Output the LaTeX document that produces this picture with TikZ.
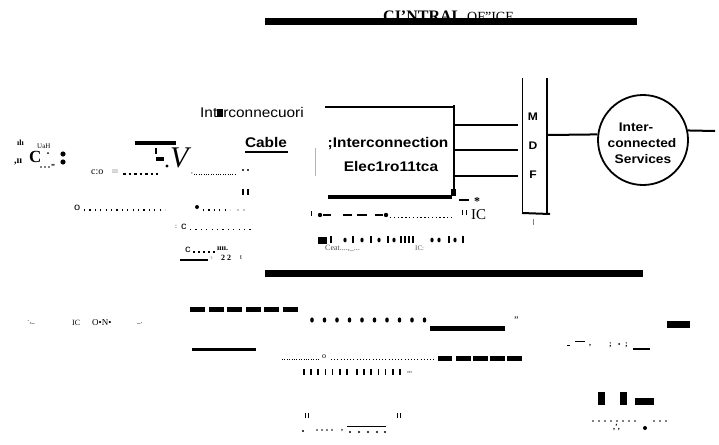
\documentclass[tikz,border=0pt]{standalone}
\usepackage{fontspec}
\setmainfont{Liberation Serif}
\newfontfamily\lsans[FakeStretch=1.1]{Liberation Sans}
\begin{document}
\begin{tikzpicture}[x=1pt,y=-1pt,
  lbl/.style={inner sep=0pt, font=\lsans\fontsize{14}{14}\selectfont},
  lblb/.style={inner sep=0pt, font=\lsans\bfseries\fontsize{14}{14}\selectfont},
  svct/.style={inner sep=0pt, font=\lsans\bfseries\fontsize{12.5}{12.5}\selectfont},
  junk/.style={inner sep=0pt, anchor=west, font=\fontsize{9}{9}\selectfont},
  wire/.style={line width=2.3pt},
  dots/.style={line width=1.2pt, dash pattern=on 1.2pt off 4.2pt},
  fdots/.style={line width=0.8pt, dash pattern=on 0.8pt off 1.6pt}]
\useasboundingbox (0,0) rectangle (719,444);

% ---------- title ----------
\node[inner sep=0, anchor=base west, font=\bfseries\fontsize{16}{16}\selectfont] (t1) at (383,22) {CI'NTRAL};
\node[inner sep=0, anchor=base west, font=\fontsize{14}{14}\selectfont] (t2) at (467,22) {OF"ICE};
\fill (265,18) rectangle (637,25);

% ---------- interconnection cable / box ----------
\node[lbl, anchor=west] (icl) at (200,112) {Int\rule[0pt]{6pt}{8pt}rconnecuori};
\coordinate (tl) at (325,107);
\coordinate (tr) at (454,107);
\coordinate (br) at (454,193);
\coordinate (bl) at (328,197);
\coordinate (bre) at (452,197);
\draw[line width=2pt] (tl) -- (tr);
\draw[line width=1.5pt] ([yshift=2pt]tr) -- (br);
\draw[line width=3.5pt] (bl) -- (bre);
\fill (451,189) rectangle (456,196);
\node[lblb] (ic) at (388,144) {;Interconnection};
\node[lblb] (el) at (391,166) {Elec1ro11tca};
\node[lblb] (cab) at (266,142) {Cable};
\draw[line width=1.6pt] (245,152) -- (288,152);
\draw[gray!60, line width=0.8pt] (315,148) -- (315,176);

% ---------- MDF ----------
\coordinate (mdftl) at (522,78);
\coordinate (mdfbl) at (522,213);
\coordinate (mdftr) at (547,78);
\coordinate (mdfbr) at (547,214);
\draw[line width=1pt] (mdftl) -- (mdfbl);
\draw[line width=2.4pt] (mdftr) -- (mdfbr);
\draw[line width=2pt] (mdfbl) -- ([xshift=3pt]mdfbr);
\draw[gray, line width=0.6pt] (533,219) -- (533,225);
\node[svct, font=\lsans\bfseries\fontsize{11}{11}\selectfont] (m) at (533,117) {M};
\node[svct, font=\lsans\bfseries\fontsize{11}{11}\selectfont] (d) at (533,146) {D};
\node[svct, font=\lsans\bfseries\fontsize{11}{11}\selectfont] (f) at (533,175) {F};
\foreach \yy in {125,150,176} \draw[wire] (455,\yy) -- (518,\yy);

% ---------- services ----------
\node[circle, draw, line width=1.8pt, minimum size=90pt, inner sep=0] (svc) at (643,140) {};
\node[svct] (s1) at (636,127) {Inter-};
\node[svct] (s2) at (642,143) {connected};
\node[svct] (s3) at (643,159) {Services};
\coordinate (mdfout) at (548,135);
\coordinate (far) at (715,131);
\draw[line width=2pt] (mdfout) -- (svc.173);
\draw[line width=2pt] (svc.12) -- (far);

% ---------- noise, left ----------
\node[junk, font=\bfseries\fontsize{8}{8}\selectfont] (j1) at (17,143) {ılı};
\node[junk, font=\fontsize{7}{7}\selectfont] (j2) at (37,146) {UaH};
\node[junk, font=\bfseries\fontsize{10}{10}\selectfont] (j3) at (14,162) {,ıı};
\node[junk, font=\bfseries\fontsize{17}{17}\selectfont] (j4) at (29,157) {C};
\fill (48,153) circle (1pt);
\fill (63,154) circle (2.6pt);
\fill (63,162) circle (2.6pt);
\foreach \xx in {41,45,49} \fill (\xx,167) circle (0.9pt);
\node[junk, font=\bfseries\fontsize{8}{8}\selectfont] (j5) at (51,166) {,,};
\node[junk, font=\fontsize{10}{10}\selectfont] (j6) at (91,172) {c:o};
\node[junk, font=\fontsize{6}{6}\selectfont, text=gray] (j7) at (112,172) {III};
\draw[line width=1.2pt, dash pattern=on 2.5pt off 3pt] (123,174) -- (158,174);
\fill (135,141) rectangle (176,145);
\fill (155,148) rectangle (156.5,154);
\fill (156,157) rectangle (164,161);
\fill (167,166) circle (1.6pt);
\node[junk, font=\itshape\fontsize{30}{30}\selectfont] (jv) at (170,158) {V};
\node[junk, font=\fontsize{7}{7}\selectfont] (j8) at (191,174) {,};
\draw[fdots] (194,174) -- (236,174);
\fill (243,170) circle (1.1pt);
\fill (248,170) circle (1.1pt);
\fill (242,189) rectangle (243.5,195);
\fill (247,189) rectangle (248.5,195);
\node[junk, font=\lsans\fontsize{10}{10}\selectfont] (j9) at (74,208) {o};
\draw[dots] (84,210) -- (165,210);
\fill (197,207) circle (2pt);
\draw[dots] (203,210) -- (230,210);
\fill (238,210) circle (0.7pt);
\fill (244,210) circle (0.7pt);
\node[junk, font=\fontsize{7}{7}\selectfont] (j10) at (175,227) {:};
\node[junk, font=\lsans\fontsize{10}{10}\selectfont] (j11) at (181,227) {c};
\draw[dots] (190,229.5) -- (254,229.5);
\node[junk, font=\lsans\fontsize{10}{10}\selectfont] (j12) at (185,250) {c};
\draw[line width=1.2pt, dash pattern=on 2pt off 3pt] (193,252) -- (216,252);
\node[junk, font=\bfseries\fontsize{8}{8}\selectfont] (j13) at (217,249) {ıııı.};
\draw[line width=1.5pt] (180,260) -- (208,260);
\node[junk, font=\fontsize{6}{6}\selectfont, text=gray] (j14) at (209,258) {·ı};
\node[junk, font=\bfseries\fontsize{8}{8}\selectfont] (j15) at (221,258) {2 2};
\node[junk, font=\fontsize{7}{7}\selectfont] (j16) at (240,258) {t};

% ---------- noise, right of the box ----------
\draw[line width=1.3pt] (459,200) -- (469,200);
\node[junk, font=\bfseries\fontsize{12}{12}\selectfont] (j17) at (474,202) {*};
\fill (311,211) rectangle (312.2,216);
\fill (320,215) circle (2.2pt);
\draw[line width=1.3pt] (323,215) -- (331,215);
\draw[line width=1.3pt] (343,215) -- (352,215);
\draw[line width=1.3pt] (357,215) -- (367,215);
\draw[line width=1.3pt] (375,215) -- (383,215);
\fill (386,215) circle (2.2pt);
\draw[line width=1pt, dash pattern=on 1.4pt off 2.4pt] (390,217) -- (452,217);
\fill (462,210) rectangle (463.3,215);
\fill (466,210) rectangle (467.3,215);
\node[junk, font=\fontsize{15}{15}\selectfont] (j18) at (471,215) {IC};
\fill (318,237) rectangle (327,244);
\foreach \xx in {330,352,370,387,400,404,408,412,448,462} \fill (\xx,236) rectangle +(1.6,7);
\foreach \xx in {345,362,379,394,432,439,455} \fill (\xx,240) ellipse (1.6pt and 2.4pt);
\node[junk, font=\fontsize{8}{8}\selectfont, text=black!70] (j19) at (325,248) {Ceat....,\_...};
\node[junk, font=\fontsize{7}{7}\selectfont, text=black!70] (j20) at (415,248) {IC:};

\fill (265,270) rectangle (643,277);

% ---------- noise, bottom ----------
\foreach \i in {0,...,5} \fill (190+\i*18.5,307) rectangle +(15,5);
\node[junk, font=\fontsize{7}{7}\selectfont] (j21) at (27,323) {·,\_};
\node[junk, font=\fontsize{8}{8}\selectfont] (j22) at (72,323) {IC};
\node[junk, font=\fontsize{9}{9}\selectfont] (j23) at (92,323) {O•N•};
\node[junk, font=\fontsize{7}{7}\selectfont] (j24) at (137,324) {\_.};
\foreach \i in {0,...,9} \fill (312+\i*12.5,320) ellipse (1.8pt and 2.6pt);
\fill (430,326) rectangle (505,331);
\node[junk, font=\fontsize{10}{10}\selectfont] (j25) at (514,320) {”};
\fill (667,321) rectangle (690,328);
\fill (567,345) rectangle (570,346.3);
\fill (575,341) rectangle (585,342.3);
\node[junk, font=\bfseries\fontsize{8}{8}\selectfont] (j26) at (589,346) {,};
\node[junk, font=\bfseries\fontsize{8}{8}\selectfont] (j27) at (609,345) {;};
\fill (619,344) circle (1pt);
\node[junk, font=\bfseries\fontsize{8}{8}\selectfont] (j28) at (625,345) {;};
\draw[line width=1.5pt] (633,349) -- (650,349);
\draw[line width=3pt] (192,349) -- (256,349);
\draw[fdots] (282,359) -- (320,359);
\node[junk, font=\fontsize{8}{8}\selectfont] (j29) at (322,357) {o};
\draw[line width=0.9pt, dash pattern=on 1pt off 2.2pt] (331,359) -- (436,359);
\fill (438,356) rectangle (452,361);
\foreach \i in {0,...,3} \fill (456+\i*17,356) rectangle +(15,5);
\foreach \i in {0,...,6} \fill (303+\i*7.2,369) rectangle +(1.5,6);
\foreach \i in {0,...,6} \fill (356+\i*7.2,369) rectangle +(1.5,6);
\node[junk, font=\fontsize{7}{7}\selectfont] (j30) at (407,373) {,,,};
% bottom-left
\fill (305,413) rectangle (306.2,418);
\fill (308,413) rectangle (309.2,418);
\fill (303,431) circle (1.1pt);
\foreach \xx in {317,322,327,332} \fill (\xx,430) circle (0.9pt);
\node[junk, font=\bfseries\fontsize{8}{8}\selectfont] (j31) at (341,431) {,};
\draw[line width=0.8pt] (347,426) -- (386,426);
\foreach \xx in {350,359,368,377,385} \fill (\xx,432) circle (1.2pt);
\fill (397,413) rectangle (398.3,418);
\fill (400,413) rectangle (401.3,418);
% bottom-right
\fill (598,392) rectangle (605,405);
\fill (620,392) rectangle (627,405);
\fill (635,398) rectangle (654,405);
\foreach \i in {0,...,7} \fill (593+\i*6,421) circle (0.8pt);
\foreach \i in {0,...,2} \fill (654+\i*6,421) circle (0.8pt);
\node[junk, font=\bfseries\fontsize{8}{8}\selectfont] (j32) at (613,427) {,',};
\fill (645,428) circle (2pt);
\end{tikzpicture}
\end{document}
